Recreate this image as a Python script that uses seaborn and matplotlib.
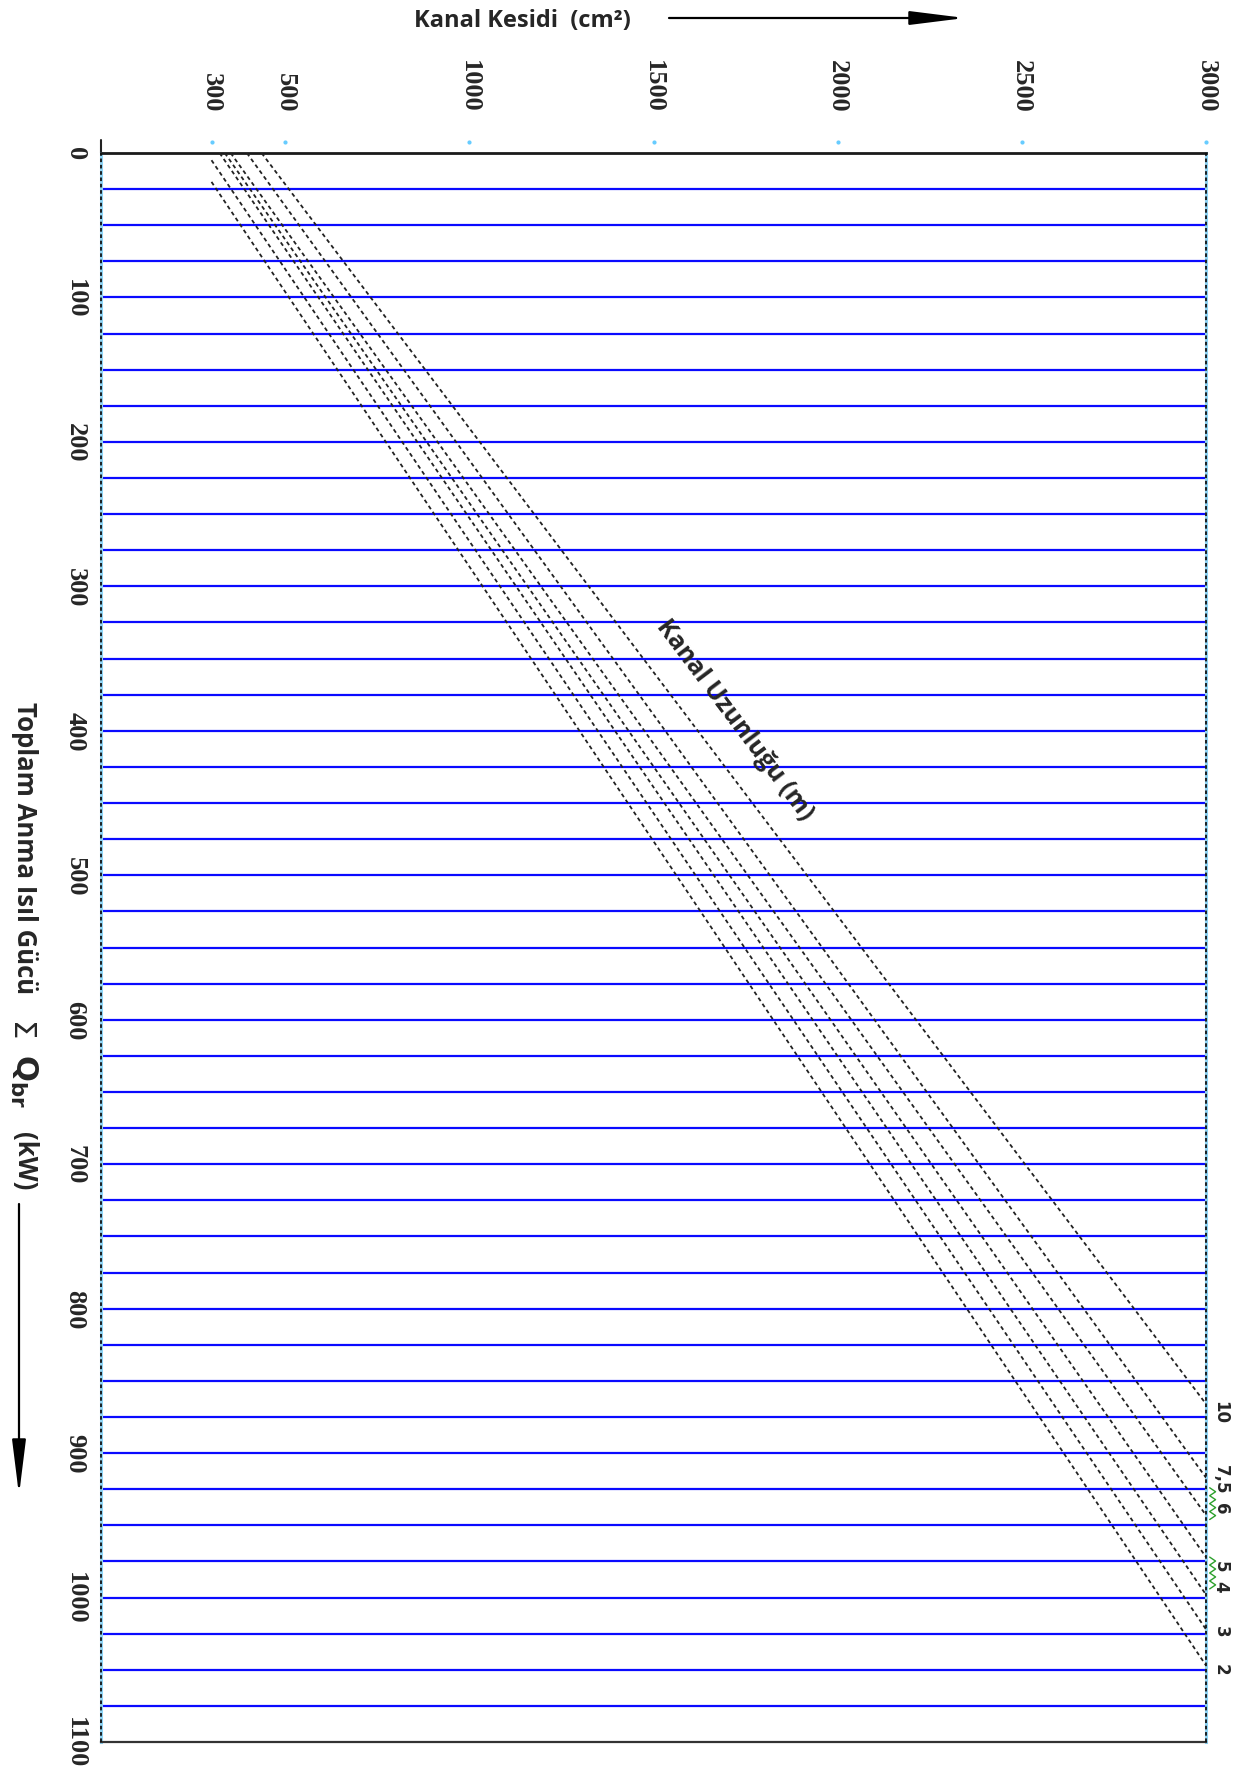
import numpy as np
import pandas as pd
import matplotlib
matplotlib.use("Agg")
import matplotlib.pyplot as plt
import seaborn as sns

# ==============================
# Veriler
# ==============================
kesit_ticks = [300, 500, 1000, 1500, 2000, 2500, 3000]        # cm2
guc_ticks = [0, 100, 200, 300, 400, 500, 600, 700, 800, 900, 1000, 1100]  # kW
yatay_cizgiler = list(range(25, 1100, 25))                    # mavi cizgiler

uzunluk = ['2', '3', '4', '5', '6', '7,5', '10']              # kanal uzunlugu (m)
bas_kesit = [300, 300, 322, 336, 352, 396, 436]
bas_guc = [20, 5, 0, 0, 0, 0, 0]
son_kesit = [3000, 3000, 3000, 3000, 3000, 3000, 3000]
son_guc = [1047, 1022, 998, 972, 943, 917, 866]
etiket_guc = [1049, 1023, 992, 978, 938, 918, 871]

# kucuk yesil zikzak isaretleri (etiket araliklari)
zikzak_araliklari = [(924, 946), (972, 994)]

# uzun format tablo
satirlar = []
for u, x0, y0, x1, y1 in zip(uzunluk, bas_kesit, bas_guc, son_kesit, son_guc):
    satirlar.append({'uzunluk': u, 'kesit': x0, 'guc': y0})
    satirlar.append({'uzunluk': u, 'kesit': x1, 'guc': y1})
df = pd.DataFrame(satirlar)

# ==============================
# Grafik
# ==============================
sns.set_style("white")
plt.rcParams['font.family'] = ['Open Sans', 'DejaVu Sans']

W, H = 1235, 1774
fig = plt.figure(figsize=(W / 100, H / 100), dpi=100)
ax = fig.add_axes([101 / W, 1 - 1743 / H, 1105 / W, 1589 / H])

for g in yatay_cizgiler:
    ax.axhline(g, color='#0a0aff', lw=1.6, zorder=2)

sns.lineplot(data=df, x='kesit', y='guc', hue='uzunluk', hue_order=uzunluk,
             palette=['#222222'] * len(uzunluk), legend=False, sort=False,
             estimator=None, lw=1.3, linestyle=(0, (2.2, 1.8)), ax=ax, zorder=3)

ax.set_xlim(0, 3000)
ax.set_ylim(1100, 0)
ax.set_xlabel('')
ax.set_ylabel('')

# eksen cizgileri
ax.spines['top'].set(color='#1a1a1a', lw=2)
ax.spines['bottom'].set(color='#333333', lw=1.6)
for s in ['left', 'right']:
    ax.spines[s].set(color='#8fd4f5', lw=2.2)
for xv in [0, 3000]:
    ax.axvline(xv, color='#111111', lw=1.3, ls=(0, (2, 1.5)), zorder=5, clip_on=False)

# ust eksen (kesit)
ax.xaxis.tick_top()
ax.set_xticks(kesit_ticks)
ax.set_xticklabels([str(v) for v in kesit_ticks], rotation=270,
                   fontfamily='Liberation Serif', fontweight='bold', fontsize=19)
ax.tick_params(axis='x', length=0, pad=30)
ax.plot(kesit_ticks, [-7.6] * len(kesit_ticks), 'o', ms=2, color='#66ccff',
        clip_on=False, zorder=4)
ax.plot([0, 0], [-9, 0], color='#222222', lw=1.5, clip_on=False)

# sol eksen (guc)
ax.set_yticks(guc_ticks)
ax.set_yticklabels([str(v) for v in guc_ticks], rotation=270, va='center',
                   fontfamily='Liberation Serif', fontweight='bold', fontsize=19)
ax.tick_params(axis='y', length=9.4, width=1.6, color='#0a0aff', pad=1)
for i in [0, -1]:
    ax.yaxis.get_major_ticks()[i].tick1line.set_color('#222222')

# sag taraftaki uzunluk etiketleri
for u, g in zip(uzunluk, etiket_guc):
    ax.annotate(u, xy=(3000, g), xytext=(4, 0), textcoords='offset points',
                rotation=270, ha='left', va='center', fontsize=12,
                fontweight='bold', fontfamily='DejaVu Sans', annotation_clip=False)

for a, b in zikzak_araliklari:
    ys = np.linspace(a, b, 9)
    xs = np.where(np.arange(9) % 2 == 0, 3010, 3026)
    ax.plot(xs, ys, color='#2ca02c', lw=1, clip_on=False, zorder=4)

ax.text(1719, 392, 'Kanal Uzunluğu (m)', rotation=-53, rotation_mode='anchor',
        ha='center', va='center', fontsize=18, fontweight='bold', zorder=6)

# baslik ve oklar
fig.text(522 / W, 1 - 21 / H, 'Kanal Kesidi  (cm²)', ha='center', va='center',
         fontsize=17, fontweight='bold')
ok = dict(arrowstyle='-|>,head_length=2.8,head_width=0.35', color='black',
          lw=1.6, mutation_scale=12, shrinkA=0, shrinkB=0)
ax.annotate('', xy=(965 / W, 1 - 19 / H), xytext=(669 / W, 1 - 19 / H),
            xycoords='figure fraction', textcoords='figure fraction', arrowprops=ok)

# sol eksen basligi (parcalar halinde)
fig.text(24 / W, 1 - 702 / H, 'Toplam Anma Isıl Gücü', rotation=270,
         ha='center', va='top', fontsize=18.5, fontweight='bold')
fig.text(22 / W, 1 - 1028 / H, '$\\Sigma$', rotation=270, ha='center',
         va='center', fontsize=22)
fig.text(24 / W, 1 - 1054 / H, '$\\mathbf{Q}_{\\mathbf{br}}$', rotation=270,
         ha='center', va='top', fontsize=22)
fig.text(24 / W, 1 - 1161 / H, '(kW)', rotation=270, ha='center', va='center',
         fontsize=18.5, fontweight='bold')
ax.annotate('', xy=(19 / W, 1 - 1496 / H), xytext=(19 / W, 1 - 1205 / H),
            xycoords='figure fraction', textcoords='figure fraction', arrowprops=ok)

fig.savefig('out.png', dpi=100)
